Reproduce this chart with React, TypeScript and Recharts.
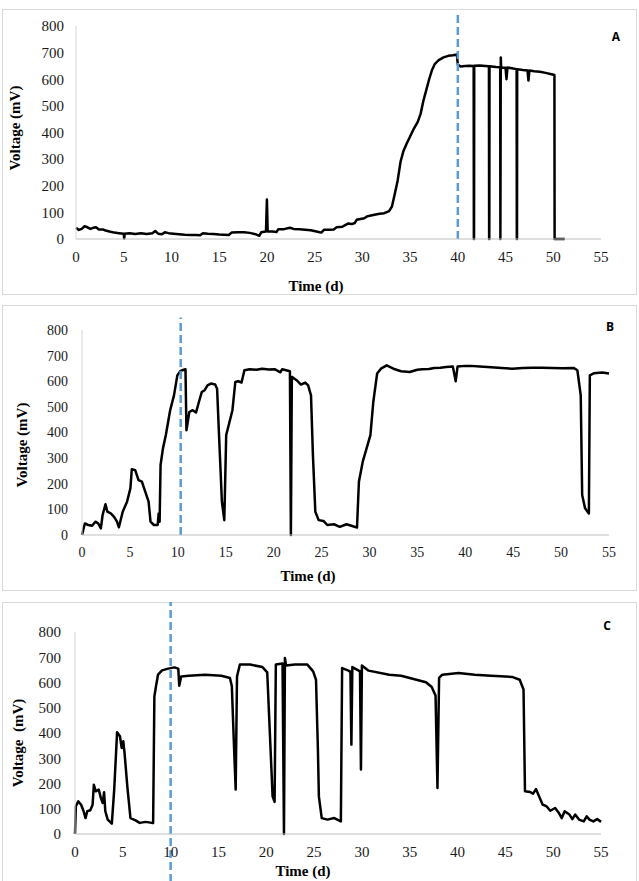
import React from 'react';
import { LineChart, Line, XAxis, YAxis, ReferenceLine } from 'recharts';

// ---- Reactor A ----
const timeA = [
  0, 0.3, 0.6, 0.9, 1.2, 1.5, 1.8, 2.1, 2.4, 2.8, 3.1, 3.5, 4, 4.5, 5.0, 5.05, 5.1, 5.6, 6.2, 6.8,
  7.4, 8.0, 8.3, 8.6, 9.0, 9.3, 9.7, 10.2, 10.8, 11.4, 12.0, 12.6, 13.0, 13.3, 13.8, 14.4, 15.0, 15.5,
  16.0, 16.3, 17.0, 17.6, 18.2, 18.8, 19.2, 19.4, 19.9, 20.0, 20.08, 20.6, 21.0, 21.2, 21.8, 22.4,
  22.8, 23.4, 24.0, 24.6, 25.2, 25.7, 26.0, 26.6, 27.0, 27.3, 27.9, 28.2, 28.5, 28.9, 29.2, 29.4,
  29.8, 30.2, 30.5, 30.9, 31.4, 31.8, 32.3, 32.8, 33.1, 33.4, 33.7, 34.0, 34.3, 34.6, 35.0, 35.4,
  35.8, 36.1, 36.4, 36.7, 37.0, 37.3, 37.6, 38.0, 38.5, 39.0, 39.5, 39.9, 40.0, 40.3, 40.8, 41.2,
  41.66, 41.68, 41.7, 41.72, 42.3, 42.9, 43.26, 43.28, 43.3, 43.32, 44.0, 44.44, 44.46, 44.5, 44.54,
  45.0, 45.1, 45.2, 45.8, 46.16, 46.18, 46.2, 46.22, 46.8, 47.3, 47.4, 47.5, 48.0, 48.6, 49.2, 49.8,
  50.12, 50.14, 50.6, 51.2,
];
const voltA = [
  42, 34, 38, 48, 44, 38, 42, 44, 36, 36, 32, 28, 24, 22, 20, 2, 20, 22, 19, 22,
  19, 22, 30, 20, 18, 25, 22, 20, 18, 16, 15, 15, 14, 22, 20, 19, 17, 16,
  15, 24, 25, 25, 23, 18, 12, 25, 28, 148, 28, 28, 26, 37, 37, 42,
  38, 37, 35, 33, 28, 24, 35, 35, 36, 44, 46, 52, 58, 56, 60, 72,
  75, 78, 85, 88, 92, 95, 97, 105, 122, 170, 220, 290, 330, 355, 385, 415,
  440, 470, 520, 560, 600, 635, 658, 672, 682, 688, 690, 693, 655, 648, 650, 651,
  650, 0, 0, 651, 652, 650, 649, 0, 0, 649, 646, 645, 0, 682, 644,
  643, 600, 644, 640, 638, 0, 0, 638, 635, 633, 595, 633, 630, 628, 624, 619,
  616, 0, 0, 0,
];

// ---- Reactor B ----
const timeB = [
  0, 0.3, 0.65, 1.05, 1.4, 1.7, 1.97, 2.15, 2.45, 2.65, 3.0, 3.35, 3.65, 3.85, 4.25, 4.7, 5.05, 5.2,
  5.55, 5.9, 6.25, 6.6, 6.95, 7.15, 7.5, 7.9, 8.0, 8.1, 8.2, 8.45, 8.75, 9.2, 9.6, 9.95, 10.25, 10.55,
  10.8, 10.9, 11.2, 11.55, 11.9, 12.2, 12.5, 12.8, 13.1, 13.45, 13.9, 14.1, 14.3, 14.6, 14.85, 15.05,
  15.4, 15.7, 16.0, 16.3, 16.65, 16.95, 17.5, 18.2, 18.8, 19.5, 20.1, 20.7, 20.9, 21.7, 21.8, 21.9,
  22.4, 22.85, 23.3, 23.6, 23.9, 24.1, 24.35, 24.7, 25.2, 25.6, 26.3, 26.9, 27.6, 28.2, 28.7, 28.9,
  29.3, 29.7, 30.1, 30.4, 30.8, 31.2, 31.8, 32.5, 33.3, 34.2, 35.0, 35.5, 36.2, 36.75, 37.4, 38.0,
  38.7, 39.0, 39.2, 40.0, 40.6, 41.5, 42.7, 43.8, 44.9, 46.0, 47.0, 48.0, 49.1, 50.2, 51.3, 51.7,
  52.05, 52.2, 52.5, 52.9, 53.0, 53.4, 54.3, 55.0,
];
const voltB = [
  0, 45, 39, 36, 52, 45, 26, 78, 120, 91, 84, 71, 52, 30, 91, 130, 182, 257,
  253, 214, 208, 169, 130, 52, 39, 39, 84, 52, 273, 338, 390, 487, 545, 623, 639, 644,
  647, 409, 480, 487, 478, 519, 558, 565, 584, 591, 587, 571, 390, 130, 58, 390,
  442, 487, 597, 600, 595, 643, 647, 645, 649, 646, 647, 635, 647, 639, 0, 617,
  604, 587, 595, 584, 545, 312, 91, 58, 55, 39, 42, 32, 42, 35, 29, 208,
  286, 338, 390, 519, 630, 649, 662, 649, 639, 636, 645, 647, 648, 652, 653, 656,
  658, 600, 658, 660, 660, 658, 655, 652, 649, 652, 653, 653, 652, 651, 652, 643,
  545, 156, 104, 84, 623, 631, 634, 630,
];

// ---- Reactor C ----
const timeC = [
  0, 0.09, 0.34, 0.64, 0.9, 1.1, 1.28, 1.6, 1.84, 1.97, 2.18, 2.48, 2.7, 2.9, 3.04, 3.17, 3.42, 3.85,
  4.1, 4.4, 4.7, 4.88, 5.05, 5.18, 5.47, 5.8, 6.33, 6.76, 7.4, 8.04, 8.17, 8.3, 8.47, 8.68, 9.1, 9.75,
  10.4, 10.8, 10.9, 11.1, 11.9, 13.6, 15.3, 16.2, 16.4, 16.6, 16.8, 16.94, 17.24, 18.3, 19.6, 20.1,
  20.36, 20.66, 20.87, 21.0, 21.7, 21.85, 21.95, 22.07, 23.0, 24.3, 24.9, 25.2, 25.4, 25.5, 25.8, 26.4,
  27.1, 27.8, 27.93, 28.6, 28.8, 28.9, 29.0, 29.8, 29.9, 30.0, 30.7, 32.85, 34.1, 35.4, 36.7, 37.3,
  37.7, 37.9, 38.07, 38.4, 40.1, 41.8, 43.5, 45.7, 46.5, 46.9, 47.05, 47.6, 47.9, 48.2, 48.6, 48.9,
  49.3, 49.7, 50.2, 50.6, 50.9, 51.2, 51.7, 52.0, 52.3, 52.7, 53.2, 53.5, 53.8, 54.2, 54.6, 55.0,
];
const voltC = [
  0, 110, 129, 116, 90, 63, 90, 94, 116, 195, 169, 176, 143, 123, 165, 90, 57, 41,
  176, 403, 387, 341, 367, 321, 189, 63, 54, 44, 48, 44, 44, 545, 585, 631, 648, 655,
  660, 655, 587, 624, 627, 631, 627, 618, 585, 374, 176, 624, 671, 671, 661, 640,
  413, 149, 127, 671, 675, 0, 697, 667, 671, 671, 644, 611, 334, 149, 63, 57,
  63, 50, 657, 647, 642, 354, 661, 644, 255, 667, 647, 631, 627, 614, 601, 582,
  548, 182, 618, 631, 638, 631, 627, 622, 611, 572, 169, 166, 160, 178, 143, 116,
  110, 92, 103, 83, 63, 90, 77, 59, 77, 57, 50, 70, 57, 50, 59, 48,
];

// Axis ticks and the day each inoculation / changeover marker sits on
const xTicks = [0, 5, 10, 15, 20, 25, 30, 35, 40, 45, 50, 55];
const yTicks = [0, 100, 200, 300, 400, 500, 600, 700, 800];
const markerDayA = 40;
const markerDayB = 10.3;
const markerDayC = 10;

const SERIF = '"Liberation Serif", "Times New Roman", serif';
const SANS = '"Open Sans", "Liberation Sans", Arial, sans-serif';

type Pt = [number, number];

interface PanelProps {
  letter: string;
  times: number[];
  volts: number[];
  markerDay: number;
  markerSpan: [number, number];
  chartTop: number;
  chartHeight: number;
  plotTop: number;
  plotRight: number;
  yAxisWidth: number;
  xAxisHeight: number;
  box: { left: number; top: number; width: number; height: number; noBottom?: boolean };
  tickSize: number;
  xTitle: Pt;
  yTitle: Pt;
  yTitleText: string;
  letterPos: Pt;
  yTickMargin: number;
}

const boldTitle = (x: number, y: number, text: string, rotate: boolean) => () => (
  <text
    x={x}
    y={y}
    textAnchor="middle"
    dominantBaseline="central"
    fontFamily={SERIF}
    fontWeight="bold"
    fontSize={15}
    fill="#000"
    style={{ whiteSpace: 'pre' }}
    transform={rotate ? `rotate(-90 ${x} ${y})` : undefined}
  >
    {text}
  </text>
);

const panelLetter = (x: number, y: number, text: string) => () => (
  <text
    x={x}
    y={y}
    textAnchor="middle"
    dominantBaseline="central"
    fontFamily={SANS}
    fontWeight="bold"
    fontSize={12}
    fill="#000"
  >
    {text}
  </text>
);

function Panel(p: PanelProps) {
  const rows = p.times.map((t, i) => ({ t, v: p.volts[i] }));
  return (
    <>
      <div
        style={{
          position: 'absolute',
          left: p.box.left,
          top: p.box.top,
          width: p.box.width,
          height: p.box.height,
          borderTop: '1px solid #d9d9d9',
          borderLeft: '1px solid #d9d9d9',
          borderRight: '1px solid #d9d9d9',
          borderBottom: p.box.noBottom ? 'none' : '1px solid #d9d9d9',
          boxSizing: 'border-box',
        }}
      />
      <div style={{ position: 'absolute', left: 0, top: p.chartTop, width: 639, height: p.chartHeight }}>
        <LineChart
          width={639}
          height={p.chartHeight}
          data={rows}
          margin={{ top: p.plotTop, right: 639 - p.plotRight, bottom: 0, left: 0 }}
        >
          <XAxis
            dataKey="t"
            type="number"
            domain={[0, 55]}
            ticks={xTicks}
            interval={0}
            height={p.xAxisHeight}
            tickLine={false}
            tickSize={0}
            tickMargin={12}
            axisLine={{ stroke: '#bfbfbf', strokeWidth: 1 }}
            tick={{ fontFamily: SERIF, fontSize: p.tickSize, fill: '#1a1a1a' }}
            label={boldTitle(p.xTitle[0], p.xTitle[1], 'Time (d)', false)}
          />
          <YAxis
            dataKey="v"
            type="number"
            domain={[0, 800]}
            ticks={yTicks}
            interval={0}
            width={p.yAxisWidth}
            tickLine={false}
            tickSize={0}
            tickMargin={p.yTickMargin}
            axisLine={{ stroke: '#d4d4d4', strokeWidth: 1 }}
            tick={{ fontFamily: SERIF, fontSize: p.tickSize, fill: '#1a1a1a' }}
            label={boldTitle(p.yTitle[0], p.yTitle[1], p.yTitleText, true)}
          />
          <Line
            dataKey="v"
            type="linear"
            stroke="#000"
            strokeWidth={2.5}
            strokeLinejoin="round"
            dot={false}
            activeDot={false}
            isAnimationActive={false}
          />
          <ReferenceLine
            segment={[
              { x: p.markerDay, y: p.markerSpan[0] },
              { x: p.markerDay, y: p.markerSpan[1] },
            ]}
            ifOverflow="visible"
            stroke="#5b9bd5"
            strokeWidth={2.5}
            strokeDasharray="8 4"
            label={panelLetter(p.letterPos[0], p.letterPos[1], p.letter)}
          />
        </LineChart>
      </div>
    </>
  );
}

export default function App() {
  return (
    <div style={{ position: 'absolute', left: 0, top: 0, width: 639, height: 881, overflow: 'hidden', background: '#fff' }}>
      <Panel
        letter="A"
        times={timeA}
        volts={voltA}
        markerDay={markerDayA}
        markerSpan={[0, 841]}
        chartTop={0}
        chartHeight={295}
        plotTop={26}
        plotRight={601}
        yAxisWidth={76}
        xAxisHeight={56}
        box={{ left: 2, top: 9, width: 635, height: 286 }}
        tickSize={15}
        xTitle={[316, 286]}
        yTitle={[15, 128]}
        yTitleText="Voltage (mV)"
        letterPos={[616, 36]}
        yTickMargin={12}
      />
      <Panel
        letter="B"
        times={timeB}
        volts={voltB}
        markerDay={markerDayB}
        markerSpan={[0, 849]}
        chartTop={295}
        chartHeight={300}
        plotTop={35}
        plotRight={609}
        yAxisWidth={82}
        xAxisHeight={60}
        box={{ left: 2, top: 305, width: 635, height: 286 }}
        tickSize={14}
        xTitle={[308, 281]}
        yTitle={[22, 150]}
        yTitleText="Voltage (mV)"
        letterPos={[610, 31]}
        yTickMargin={14}
      />
      <Panel
        letter="C"
        times={timeC}
        volts={voltC}
        markerDay={markerDayC}
        markerSpan={[-190, 919]}
        chartTop={590}
        chartHeight={291}
        plotTop={42}
        plotRight={601}
        yAxisWidth={75}
        xAxisHeight={47}
        box={{ left: 2, top: 602, width: 635, height: 290, noBottom: true }}
        tickSize={15}
        xTitle={[303, 281]}
        yTitle={[18, 153]}
        yTitleText="Voltage  (mV)"
        letterPos={[607, 35]}
        yTickMargin={14}
      />
    </div>
  );
}
